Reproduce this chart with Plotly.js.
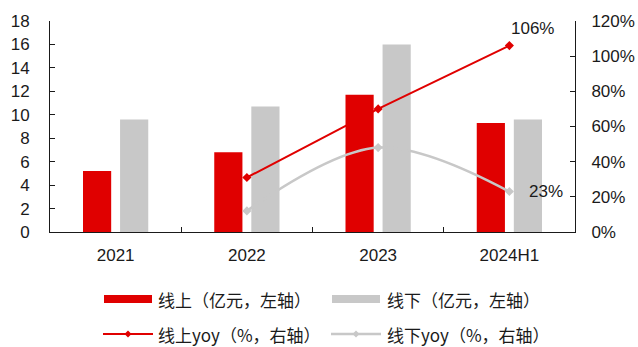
<!DOCTYPE html>
<html>
<head>
<meta charset="utf-8">
<script src="https://cdn.plot.ly/plotly-3.0.1.min.js"></script>
<style>
  html, body { margin: 0; padding: 0; background: #fff; }
  #chart { width: 638px; height: 347px; }
</style>
</head>
<body>
<div id="chart"></div>
<script>
// Periods on the category axis
const periods = ['2021', '2022', '2023', '2024H1'];

// Sales, 亿元 (left axis)
const onlineSales = [5.2, 6.8, 11.7, 9.3];
const offlineSales = [9.6, 10.7, 16.0, 9.6];

// Year-on-year growth, % (right axis); no value for the first period
const onlineYoy = [null, 31, 70, 106];
const offlineYoy = [null, 12, 48, 23];

// Legend captions
const legendNames = ['线上（亿元，左轴）', '线下（亿元，左轴）', '线上yoy（%，右轴）', '线下yoy（%，右轴）'];

const RED = '#E00000';
const GREY = '#C8C8C8';
const INK = '#1a1a1a';
const LATIN = '"Liberation Sans", Arial, sans-serif';
const CJK = '"Noto Sans CJK SC", "Noto Sans", sans-serif';

const W = 638, H = 347;
const M = { l: 50, r: 63, t: 21, b: 115 };
const plotW = W - M.l - M.r, plotH = H - M.t - M.b;
// pixel -> paper helpers for the hand-built legend
const px = x => (x - M.l) / plotW;
const py = y => (H - M.b - y) / plotH;

const traces = [
  { type: 'bar', x: periods, y: onlineSales, name: legendNames[0],
    marker: { color: RED }, yaxis: 'y', hoverinfo: 'y' },
  { type: 'bar', x: periods, y: offlineSales, name: legendNames[1],
    marker: { color: GREY }, yaxis: 'y', hoverinfo: 'y' },
  { type: 'scatter', mode: 'lines+markers', x: periods, y: onlineYoy, name: legendNames[2],
    yaxis: 'y2', line: { color: RED, width: 2 },
    marker: { symbol: 'diamond', size: 7, color: RED } },
  { type: 'scatter', mode: 'lines+markers', x: periods, y: offlineYoy, name: legendNames[3],
    yaxis: 'y2', line: { color: GREY, width: 2.5, shape: 'spline', smoothing: 1 },
    marker: { symbol: 'diamond', size: 7, color: GREY } }
];

const last = periods.length - 1;
const annotations = [
  { x: periods[last], y: onlineYoy[last], xref: 'x', yref: 'y2',
    text: onlineYoy[last] + '%', showarrow: false, xanchor: 'left', yanchor: 'middle',
    xshift: 0, yshift: 17, font: { family: LATIN, size: 17, color: INK } },
  { x: periods[last], y: offlineYoy[last], xref: 'x', yref: 'y2',
    text: offlineYoy[last] + '%', showarrow: false, xanchor: 'left', yanchor: 'middle',
    xshift: 18, yshift: 0, font: { family: LATIN, size: 17, color: INK } }
];

// Custom legend: wide swatches, two columns, two rows
const shapes = [];
const legendRows = [299, 334];
const swatchX = [[104, 152], [332, 380]];
const textX = [157, 386];
const colors = [RED, GREY, RED, GREY];
legendNames.forEach((name, i) => {
  const row = Math.floor(i / 2), col = i % 2;
  const yc = legendRows[row];
  const [x0, x1] = swatchX[col];
  if (row === 0) {
    shapes.push({ type: 'rect', xref: 'paper', yref: 'paper',
      x0: px(x0), x1: px(x1), y0: py(yc + 4), y1: py(yc - 4),
      fillcolor: colors[i], line: { width: 0 } });
  } else {
    shapes.push({ type: 'line', xref: 'paper', yref: 'paper',
      x0: px(x0 - 1), x1: px(x1 + 1), y0: py(yc), y1: py(yc),
      line: { color: colors[i], width: i === 2 ? 2 : 2.5 } });
    const xm = (x0 + x1) / 2, d = 3.5;
    shapes.push({ type: 'path', xref: 'paper', yref: 'paper',
      path: `M ${px(xm - d)} ${py(yc)} L ${px(xm)} ${py(yc - d)} L ${px(xm + d)} ${py(yc)} L ${px(xm)} ${py(yc + d)} Z`,
      fillcolor: colors[i], line: { width: 0 } });
  }
  annotations.push({ xref: 'paper', yref: 'paper', x: px(textX[col]), y: py(yc),
    text: name, showarrow: false, xanchor: 'left', yanchor: 'middle', borderpad: 0,
    font: { family: CJK, size: 17, color: INK } });
});

const layout = {
  width: W, height: H,
  margin: M,
  paper_bgcolor: '#fff', plot_bgcolor: '#fff',
  showlegend: false,
  barmode: 'group',
  bargap: 0.435,
  bargroupgap: 0.24,
  font: { family: LATIN, size: 17, color: INK },
  xaxis: {
    type: 'category', tickson: 'boundaries',
    ticks: 'inside', ticklen: 5, tickcolor: INK,
    showline: true, linecolor: INK, linewidth: 1,
    showgrid: false, zeroline: false,
    ticklabelstandoff: 8,
    tickfont: { family: LATIN, size: 17, color: INK }
  },
  yaxis: {
    range: [0, 18], dtick: 2, tick0: 0,
    ticks: 'inside', ticklen: 5, tickcolor: INK,
    showline: true, linecolor: INK, linewidth: 1,
    showgrid: false, zeroline: false,
    ticklabelstandoff: 16,
    tickfont: { family: LATIN, size: 17, color: INK }
  },
  yaxis2: {
    overlaying: 'y', side: 'right',
    range: [0, 120], dtick: 20, tick0: 0, ticksuffix: '%',
    ticks: 'inside', ticklen: 5, tickcolor: INK,
    showline: true, linecolor: INK, linewidth: 1,
    showgrid: false, zeroline: false,
    ticklabelstandoff: 12,
    tickfont: { family: LATIN, size: 17, color: INK }
  },
  annotations: annotations,
  shapes: shapes
};

Plotly.newPlot('chart', traces, layout, { staticPlot: true, displayModeBar: false });
</script>
</body>
</html>
